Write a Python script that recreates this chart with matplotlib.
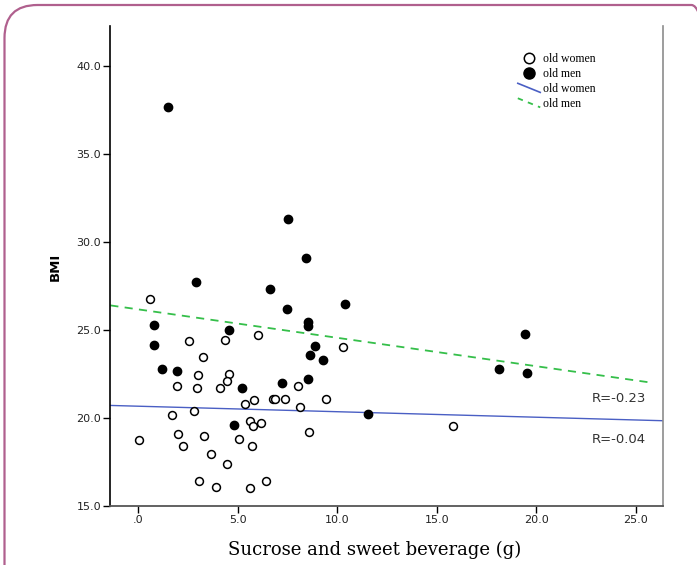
import matplotlib

matplotlib.use("Agg")
import matplotlib.pyplot as plt
from matplotlib.legend_handler import HandlerBase
from matplotlib.lines import Line2D
from matplotlib.patches import FancyBboxPatch
from matplotlib.transforms import IdentityTransform

# values
women_x = [0.57, 2.53, 4.36, 5.99, 3.24, 10.28, 3.0, 4.56, 1.95, 2.95, 4.11, 4.46,
           8.04, 5.80, 5.38, 6.76, 6.85, 7.38, 9.41, 8.1, 1.71, 2.8, 5.6, 5.77,
           6.17, 8.59, 0.02, 2.01, 3.3, 5.08, 2.26, 5.7, 3.66, 4.44, 3.03, 3.88,
           5.62, 6.39, 15.79]
women_y = [26.76, 24.36, 24.45, 24.72, 23.45, 24.06, 22.47, 22.52, 21.8, 21.73, 21.74, 22.09,
           21.8, 21.05, 20.8, 21.1, 21.1, 21.1, 21.06, 20.61, 20.19, 20.4, 19.83, 19.55,
           19.74, 19.23, 18.73, 19.11, 19.0, 18.83, 18.39, 18.41, 17.95, 17.37, 16.44, 16.06,
           16.0, 16.4, 19.55]
men_x = [1.5, 7.5, 8.43, 2.92, 6.61, 7.49, 10.40, 0.77, 4.56, 8.54, 8.54, 0.77, 8.86,
         8.61, 9.28, 1.19, 1.95, 7.2, 5.22, 8.54, 4.82, 11.54, 19.44, 18.13, 19.53]
men_y = [37.67, 31.34, 29.08, 27.73, 27.35, 26.23, 26.48, 25.32, 25.0, 25.45, 25.25, 24.17, 24.09,
         23.6, 23.28, 22.78, 22.67, 21.97, 21.73, 22.24, 19.59, 20.21, 24.81, 22.78, 22.56]

# fit lines (end points as drawn)
women_fit_x = [-1.41, 26.38]
women_fit_y = [20.72, 19.85]
men_fit_x = [-1.41, 25.63]
men_fit_y = [26.41, 22.04]

r_labels = ["R=-0.23", "R=-0.04"]
r_label_y = [21.09, 18.81]

x_ticks = [0, 5, 10, 15, 20, 25]
x_tick_labels = [".0", "5.0", "10.0", "15.0", "20.0", "25.0"]
y_ticks = [15, 20, 25, 30, 35, 40]
y_tick_labels = ["15.0", "20.0", "25.0", "30.0", "35.0", "40.0"]


class DiagonalHandler(HandlerBase):
    """Legend line drawn as a short slanted stroke, like the SPSS output."""

    def create_artists(self, legend, orig_handle, xdescent, ydescent,
                       width, height, fontsize, trans):
        line = Line2D([-xdescent, -xdescent + width],
                      [height * 1.1 - ydescent, -ydescent])
        line.update_from(orig_handle)
        line.set_transform(trans)
        return [line]


fig = plt.figure(figsize=(6.97, 5.65), dpi=100)
ax = fig.add_axes([0.1583, 0.1044, 0.7925, 0.8496])

blue, green = "#4a5fc4", "#35bf4a"
ax.plot(women_fit_x, women_fit_y, color=blue, lw=1.0, zorder=2)
ax.plot(men_fit_x, men_fit_y, color=green, lw=1.3, ls=(0, (4.5, 3.5)), zorder=2)

ax.scatter(women_x, women_y, s=32, facecolor="white", edgecolor="black",
           linewidths=1.1, zorder=3)
ax.scatter(men_x, men_y, s=36, color="black", zorder=4)

for label, y in zip(r_labels, r_label_y):
    ax.text(25.5, y, label, ha="right", va="center", fontsize=9.5, color="#333333")

ax.set_xlim(-1.41, 26.35)
ax.set_ylim(15, 42.3)
ax.set_xticks(x_ticks)
ax.set_xticklabels(x_tick_labels)
ax.set_yticks(y_ticks)
ax.set_yticklabels(y_tick_labels)
ax.tick_params(axis="both", direction="out", length=5, width=1,
               labelsize=8, labelcolor="#222222", pad=1.5)

ax.spines["top"].set_visible(False)
ax.spines["left"].set_color("black")
ax.spines["left"].set_linewidth(1.2)
ax.spines["right"].set_color("#8c8c8c")
ax.spines["right"].set_linewidth(1.2)
ax.spines["bottom"].set_color("#555555")
ax.spines["bottom"].set_linewidth(1.3)

ax.set_ylabel("BMI", fontsize=9.5, fontweight="bold")
ax.yaxis.set_label_coords(-0.0875, 0.498)
ax.set_xlabel("Sucrose and sweet beverage (g)", fontsize=13, family="DejaVu Serif")
ax.xaxis.set_label_coords(0.479, -0.072)

handles = [
    Line2D([], [], ls="none", marker="o", ms=7.5, mfc="white", mec="black", mew=1.1),
    Line2D([], [], ls="none", marker="o", ms=8, color="black"),
    Line2D([], [], color=blue, lw=1.2),
    Line2D([], [], color=green, lw=1.3, ls=(0, (3, 3))),
]
labels = ["old women", "old men", "old women", "old men"]
ax.legend(handles, labels, loc="upper left", bbox_to_anchor=(0.727, 0.955),
          frameon=False, borderpad=0, handlelength=1.9, handletextpad=0.25,
          labelspacing=0.25, prop={"family": "Liberation Serif", "size": 8.5},
          handler_map={handles[2]: DiagonalHandler(), handles[3]: DiagonalHandler()})

# rounded page frame
frame = FancyBboxPatch((4.5, -60), 720, 620, boxstyle="round,pad=0,rounding_size=33",
                       transform=IdentityTransform(), fill=False,
                       edgecolor="#b0608e", lw=1.6)
fig.patches.append(frame)

fig.savefig("out.png", dpi=100)
